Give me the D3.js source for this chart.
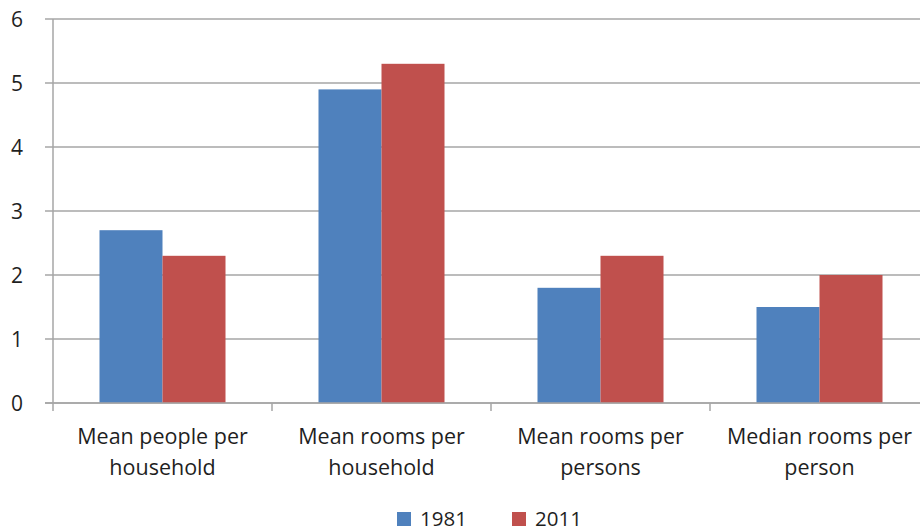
<!DOCTYPE html>
<html>
<head>
<meta charset="utf-8">
<script src="https://cdn.jsdelivr.net/npm/d3@7"></script>
<style>
  body { margin: 0; background: #fff; overflow: hidden; }
  svg text { font-family: "Open Sans", "Noto Sans", sans-serif; fill: #1f1f1f; }
</style>
</head>
<body>
<div id="chart"></div>
<script>
// chart data
const categories = [
  "Mean people per household",
  "Mean rooms per household",
  "Mean rooms per persons",
  "Median rooms per person"
];
const series = ["1981", "2011"];
const values1981 = [2.7, 4.9, 1.8, 1.5];
const values2011 = [2.3, 5.3, 2.3, 2.0];
const yTicks = [0, 1, 2, 3, 4, 5, 6];
const colors = ["#4F81BD", "#C0504D"];

const width = 920, height = 531;
const svg = d3.select("#chart").append("svg")
  .attr("width", width)
  .attr("height", height);

const x0 = d3.scaleBand()
  .domain(categories)
  .range([53, 929])
  .padding(0);

const x1 = d3.scaleBand()
  .domain(series)
  .range([0, x0.bandwidth()])
  .paddingInner(0)
  .paddingOuter(0.738);

const y = d3.scaleLinear()
  .domain([0, 6])
  .range([403, 19]);

// gridlines
svg.append("g")
  .selectAll("line")
  .data(yTicks)
  .enter()
  .append("line")
  .attr("x1", 45)
  .attr("x2", 929)
  .attr("y1", d => y(d))
  .attr("y2", d => y(d))
  .attr("stroke", "#a6a6a6")
  .attr("stroke-width", 1.5);

// y axis line
svg.append("line")
  .attr("x1", 53).attr("x2", 53)
  .attr("y1", y(6)).attr("y2", y(0))
  .attr("stroke", "#a6a6a6")
  .attr("stroke-width", 1.5);

// y labels
svg.append("g")
  .selectAll("text")
  .data(yTicks)
  .enter()
  .append("text")
  .attr("x", 23)
  .attr("y", d => y(d))
  .attr("dy", "0.36em")
  .attr("text-anchor", "end")
  .attr("font-size", 21)
  .text(d => d);

// bars
const rows = categories.map((c, i) => ({ cat: c, vals: [values1981[i], values2011[i]] }));
const groups = svg.append("g")
  .selectAll("g")
  .data(rows)
  .enter()
  .append("g")
  .attr("transform", d => `translate(${x0(d.cat)},0)`);

groups.selectAll("rect")
  .data(d => d.vals.map((v, j) => ({ key: series[j], v: v, j: j })))
  .enter()
  .append("rect")
  .attr("x", d => x1(d.key))
  .attr("width", x1.bandwidth())
  .attr("y", d => y(d.v))
  .attr("height", d => y(0) - y(d.v))
  .attr("fill", d => colors[d.j]);

// x axis line + ticks
svg.append("line")
  .attr("x1", 45).attr("x2", 929)
  .attr("y1", y(0)).attr("y2", y(0))
  .attr("stroke", "#a6a6a6")
  .attr("stroke-width", 1.5);

svg.append("g")
  .selectAll("line")
  .data(categories)
  .enter()
  .append("line")
  .attr("x1", d => x0(d)).attr("x2", d => x0(d))
  .attr("y1", y(0)).attr("y2", y(0) + 8)
  .attr("stroke", "#a6a6a6")
  .attr("stroke-width", 1.5);

// category labels, wrapped before last word
const labels = svg.append("g")
  .selectAll("text")
  .data(categories)
  .enter()
  .append("text")
  .attr("text-anchor", "middle")
  .attr("font-size", 21.5);

labels.each(function (d) {
  const words = d.split(" ");
  const lines = [words.slice(0, -1).join(" "), words[words.length - 1]];
  const t = d3.select(this);
  lines.forEach((ln, k) => {
    t.append("tspan")
      .attr("x", x0(d) + x0.bandwidth() / 2)
      .attr("y", 444 + k * 31)
      .text(ln);
  });
});

// legend
const legend = svg.append("g")
  .selectAll("g")
  .data(series)
  .enter()
  .append("g")
  .attr("transform", (d, i) => `translate(${397 + i * 115},512)`);

legend.append("rect")
  .attr("width", 14)
  .attr("height", 14)
  .attr("fill", (d, i) => colors[i]);

legend.append("text")
  .attr("x", 23)
  .attr("y", 14)
  .attr("font-size", 20.5)
  .text(d => d);
</script>
</body>
</html>
